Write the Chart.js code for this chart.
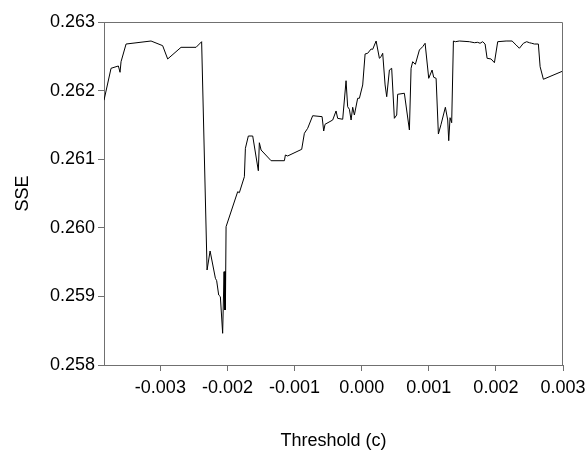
<!DOCTYPE html>
<html>
<head>
<meta charset="utf-8">
<script src="https://cdn.jsdelivr.net/npm/chart.js@4.4.1/dist/chart.umd.min.js"></script>
<style>
  html, body { margin: 0; padding: 0; background: #fff; overflow: hidden; }
  #wrap { width: 587px; height: 452px; }
</style>
</head>
<body>
<div id="wrap"><canvas id="c" width="587" height="452"></canvas></div>
<script>
const thresholds = [
  -0.00384, -0.003735, -0.003626, -0.003601, -0.003586, -0.003511, -0.003139, -0.002966,
  -0.002891, -0.002692, -0.002468, -0.002385, -0.002304, -0.002259, -0.00218, -0.002161,
  -0.002131, -0.002106, -0.002072, -0.002051, -0.002042, -0.002036, -0.002031, -0.002021,
  -0.001848, -0.001823, -0.001748, -0.001733, -0.001689, -0.001624, -0.00154, -0.001525,
  -0.001499, -0.00135, -0.001152, -0.001137, -0.001103, -0.000894, -0.000854, -0.000805,
  -0.00073, -0.00059, -0.000566, -0.000546, -0.000432, -0.000382, -0.000358, -0.000283,
  -0.000233, -0.000209, -0.000183, -0.000158, -0.000134, -0.000109, -0.00006, -0.000034,
  0.000015, 0.000051, 0.000089, 0.00014, 0.000164, 0.000215, 0.000264, 0.000289,
  0.000313, 0.000349, 0.000373, 0.000413, 0.000447, 0.000487, 0.000522, 0.000536,
  0.000636, 0.000711, 0.000736, 0.00076, 0.0008, 0.00086, 0.000909, 0.000945,
  0.000999, 0.001049, 0.001073, 0.001109, 0.001143, 0.001183, 0.001247, 0.001282,
  0.001297, 0.001317, 0.001341, 0.001367, 0.001396, 0.001456, 0.001605, 0.00168,
  0.001729, 0.001764, 0.001803, 0.001839, 0.001869, 0.001928, 0.001978, 0.002027,
  0.002152, 0.002241, 0.002301, 0.00235, 0.00241, 0.002459, 0.002499, 0.002534,
  0.002574, 0.002633, 0.002659, 0.002708, 0.003
];
const sse = [
  0.26186, 0.262325, 0.262359, 0.262267, 0.262421, 0.262679, 0.262723, 0.262655,
  0.262461, 0.262631, 0.262631, 0.262713, 0.259385, 0.259662, 0.259264, 0.259229,
  0.25902, 0.258996, 0.258462, 0.25936, 0.258802, 0.25936, 0.258802, 0.260016,
  0.260526, 0.260512, 0.260745, 0.261159, 0.261338, 0.261338, 0.260832, 0.26124,
  0.261134, 0.260978, 0.260978, 0.261061, 0.261047, 0.261144, 0.261378, 0.26145,
  0.261634, 0.26162, 0.261411, 0.261509, 0.261571, 0.261703, 0.261596, 0.261582,
  0.262144, 0.261765, 0.261727, 0.261571, 0.261757, 0.261644, 0.261888, 0.261888,
  0.262082, 0.262534, 0.262544, 0.262606, 0.262602, 0.262723, 0.262471, 0.262494,
  0.262544, 0.262082, 0.261911, 0.2623, 0.262325, 0.261596, 0.261644, 0.261946,
  0.261961, 0.261426, 0.262325, 0.262421, 0.262383, 0.262592, 0.26264, 0.26269,
  0.262179, 0.2623, 0.262194, 0.262179, 0.261367, 0.261509, 0.261757, 0.261571,
  0.26127, 0.261605, 0.261532, 0.262723, 0.262713, 0.262723, 0.262713, 0.262698,
  0.262704, 0.26269, 0.262713, 0.262679, 0.262471, 0.262461, 0.262407, 0.262713,
  0.262723, 0.262723, 0.262665, 0.262617, 0.26269, 0.262713, 0.262698, 0.26269,
  0.262679, 0.262679, 0.262348, 0.262165, 0.262286
];
const xTickValues = [-0.003, -0.002, -0.001, 0.000, 0.001, 0.002, 0.003];
const yTickValues = [0.258, 0.259, 0.260, 0.261, 0.262, 0.263];
const xTitle = 'Threshold (c)';
const yTitle = 'SSE';

const points = thresholds.map((t, i) => ({ x: t, y: sse[i] }));

const frame = {
  id: 'frame',
  afterDraw(chart) {
    const a = chart.chartArea, ctx = chart.ctx;
    ctx.save();
    ctx.strokeStyle = '#707070';
    ctx.lineWidth = 1;
    ctx.beginPath();
    ctx.moveTo(Math.round(a.left) + 0.5, Math.round(a.top) + 0.5);
    ctx.lineTo(Math.round(a.right) - 0.5, Math.round(a.top) + 0.5);
    ctx.lineTo(Math.round(a.right) - 0.5, Math.round(a.bottom) + 0.5);
    ctx.stroke();
    ctx.restore();
  }
};

const font = { family: 'Arial, "Liberation Sans", sans-serif', size: 18 };

new Chart(document.getElementById('c'), {
  type: 'line',
  data: {
    datasets: [{
      data: points,
      borderColor: '#000',
      borderWidth: 1,
      pointRadius: 0,
      tension: 0,
      fill: false
    }]
  },
  options: {
    responsive: false,
    animation: false,
    devicePixelRatio: 1,
    layout: { padding: { left: 0, right: 24, top: 22, bottom: 0 } },
    plugins: { legend: { display: false }, tooltip: { enabled: false } },
    scales: {
      x: {
        type: 'linear',
        min: thresholds[0],
        max: xTickValues[xTickValues.length - 1],
        afterBuildTicks(scale) { scale.ticks = xTickValues.map(v => ({ value: v })); },
        afterFit(scale) { scale.height = 87; scale.paddingLeft = 0; scale.paddingRight = 0; },
        grid: { drawOnChartArea: false, drawTicks: true, tickLength: 6, color: '#707070' },
        border: { display: true, color: '#707070', width: 1 },
        ticks: {
          color: '#000', font: font, padding: 6, maxRotation: 0, autoSkip: false,
          callback: v => Number(v).toFixed(3)
        },
        title: { display: true, text: xTitle, color: '#000', font: font, padding: { top: 3, bottom: 0 } }
      },
      y: {
        min: yTickValues[0],
        max: yTickValues[yTickValues.length - 1],
        afterBuildTicks(scale) { scale.ticks = yTickValues.map(v => ({ value: v })); },
        afterFit(scale) { scale.width = 104; },
        grid: { drawOnChartArea: false, drawTicks: true, tickLength: 6, color: '#707070' },
        border: { display: true, color: '#707070', width: 1 },
        ticks: {
          color: '#000', font: font, padding: 3,
          callback: v => Number(v).toFixed(3)
        },
        title: { display: true, text: yTitle, color: '#000', font: font, padding: { top: 12, bottom: 0 } }
      }
    }
  },
  plugins: [frame]
});
</script>
</body>
</html>
